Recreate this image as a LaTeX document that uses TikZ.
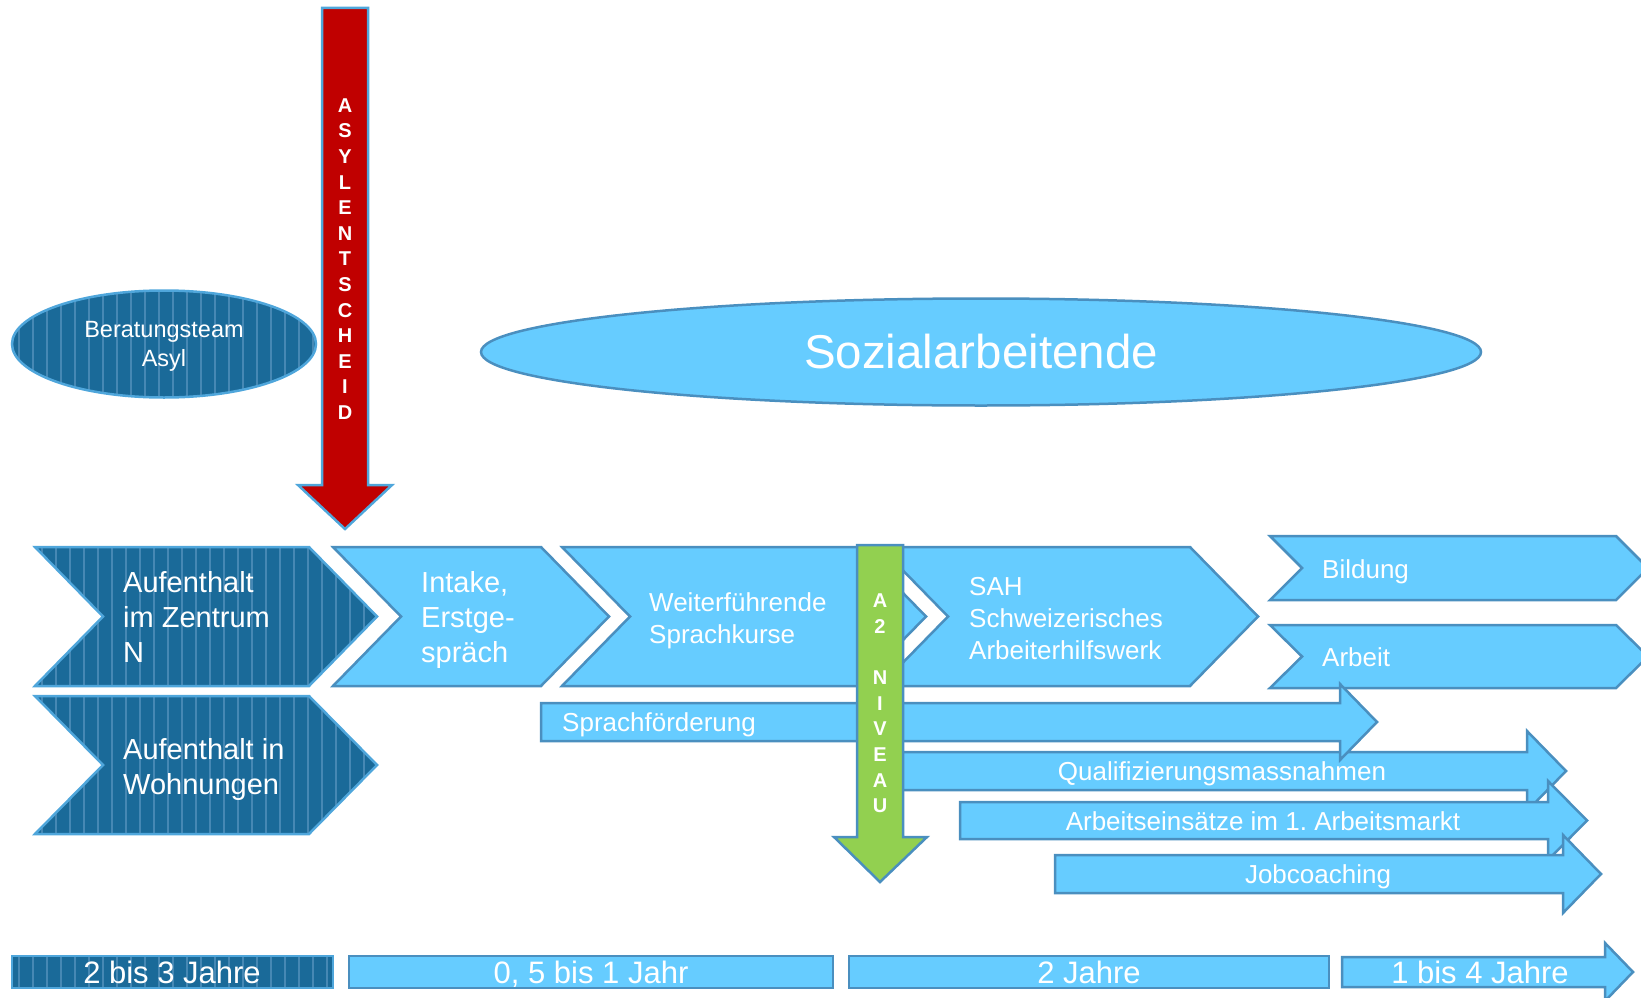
\documentclass[tikz,border=0pt]{standalone}
\usepackage{fontspec}
\setmainfont{Liberation Sans}
\usetikzlibrary{shapes.geometric}
\frenchspacing

\definecolor{skyfill}{HTML}{66CCFF}
\definecolor{skyline}{HTML}{4A8FBF}
\definecolor{navyfill}{HTML}{1A6A99}
\definecolor{navystripe}{HTML}{4688B4}
\definecolor{navyline}{HTML}{4FA6DB}
\definecolor{redfill}{HTML}{C00000}
\definecolor{greenfill}{HTML}{92D050}

\tikzset{
  sky/.style={fill=skyfill, draw=skyline, line width=2.5pt, line join=miter},
  striped/.style={fill=navyfill, draw=navyline, line width=2.5pt, line join=miter,
    path picture={
      \foreach \k in {0,...,26}{
        \draw[navystripe, line width=2.6pt]
          ([xshift=\k*14pt+7pt]path picture bounding box.north west) --
          ([xshift=\k*14pt+7pt]path picture bounding box.south west);
      }}},
  lbl/.style={text=white, inner sep=0pt},
  big/.style={lbl, font=\fontsize{29}{35}\selectfont, align=left, anchor=north west},
  mid/.style={lbl, font=\fontsize{26}{32}\selectfont, align=left, anchor=north west},
  barlabel/.style={lbl, font=\fontsize{26}{32}\selectfont, anchor=base},
  yearlabel/.style={lbl, font=\fontsize{31}{36}\selectfont, anchor=base},
  spelled/.style={lbl, font=\bfseries\fontsize{20}{25.6}\selectfont, align=center, anchor=center}
}

\begin{document}
\begin{tikzpicture}[x=1pt, y=-1pt]
\useasboundingbox (0,0) rectangle (1641,998);

% ---- counselling teams ----
\node[striped, ellipse, minimum width=304pt, minimum height=107pt, inner sep=0pt] (berat) at (164,344) {};
\node[lbl, font=\fontsize{23.5}{29}\selectfont, align=center, anchor=center] (berattext) at (164,346) {Beratungsteam\\Asyl};

\node[sky, ellipse, minimum width=1000pt, minimum height=107pt, inner sep=0pt] (sozial) at (981,352) {};
\node[lbl, font=\fontsize{47.5}{54}\selectfont, anchor=base] (sozialtext) at (981,368) {Sozialarbeitende};

% ---- asylum decision ----
\draw[fill=redfill, draw=navyline, line width=2.5pt, line join=miter]
  (322,8) -- (368,8) -- (368,485) -- (392,485) -- (345,529) -- (298,485) -- (322,485) -- cycle;
\node[spelled] (asyl) at (345,259) {A\\S\\Y\\L\\E\\N\\T\\S\\C\\H\\E\\I\\D};

% ---- phases ----
\draw[striped] (35,547) -- (309,547) -- (377,616.5) -- (309,686) -- (35,686) -- (103,616.5) -- cycle;
\draw[striped] (35,696) -- (309,696) -- (377,765) -- (309,834) -- (35,834) -- (103,765) -- cycle;
\draw[sky] (333,547) -- (541,547) -- (609,616.5) -- (541,686) -- (333,686) -- (401,616.5) -- cycle;
\draw[sky] (562,547) -- (858,547) -- (926,616.5) -- (858,686) -- (562,686) -- (630,616.5) -- cycle;
\draw[sky] (880,547) -- (1190,547) -- (1258,616.5) -- (1190,686) -- (880,686) -- (948,616.5) -- cycle;
\draw[sky] (1270,536) -- (1616,536) -- (1648,568) -- (1616,600) -- (1270,600) -- (1302,568) -- cycle;
\draw[sky] (1270,625) -- (1616,625) -- (1648,656.5) -- (1616,688) -- (1270,688) -- (1302,656.5) -- cycle;

\node[big] (zentrum) at (123,571) {Aufenthalt\\im Zentrum\\N};
\node[big] (wohnungen) at (123,738) {Aufenthalt in\\Wohnungen};
\node[big] (intake) at (421,571) {Intake,\\Erstge-\\spräch};
\node[mid] (kurse) at (649,592) {Weiterführende\\Sprachkurse};
\node[mid] (sah) at (969,577) {SAH\\Schweizerisches\\Arbeiterhilfswerk};
\node[lbl, font=\fontsize{26}{32}\selectfont, anchor=base west] (bildung) at (1322,578) {Bildung};
\node[lbl, font=\fontsize{26}{32}\selectfont, anchor=base west] (arbeit) at (1322,666) {Arbeit};

% ---- measures ----
\draw[sky] (880,752) -- (1527,752) -- (1527,731) -- (1566,771) -- (1527,811) -- (1527,790) -- (880,790) -- cycle;
\draw[sky] (541,703) -- (1340,703) -- (1340,684) -- (1377,722) -- (1340,760) -- (1340,741) -- (541,741) -- cycle;
\draw[sky] (960,802) -- (1548,802) -- (1548,781) -- (1587,820.5) -- (1548,860) -- (1548,839) -- (960,839) -- cycle;
\draw[sky] (1055,855) -- (1563,855) -- (1563,835) -- (1601,874) -- (1563,913) -- (1563,893) -- (1055,893) -- cycle;

\node[lbl, font=\fontsize{26}{32}\selectfont, anchor=base west] (sprach) at (562,731) {Sprachförderung};
\node[barlabel] (quali) at (1222,780) {Qualifizierungsmassnahmen};
\node[barlabel] (einsatz) at (1263,830) {Arbeitseinsätze im 1. Arbeitsmarkt};
\node[barlabel] (coach) at (1318,883) {Jobcoaching};

% ---- language level ----
\draw[fill=greenfill, draw=skyline, line width=2.5pt, line join=miter]
  (857,545) -- (903,545) -- (903,837) -- (927,837) -- (880,882) -- (834,837) -- (857,837) -- cycle;
\node[spelled] (niveau) at (880,703.5) {A\\2\\\mbox{}\\N\\I\\V\\E\\A\\U};

% ---- durations ----
\draw[striped] (12,956) rectangle (333,988);
\draw[sky] (349,956) rectangle (833,988);
\draw[sky] (849,956) rectangle (1329,988);
\draw[sky] (1342,957) -- (1605,957) -- (1605,943) -- (1633,972) -- (1605,1001) -- (1605,987) -- (1342,987) -- cycle;

\node[yearlabel] (y1) at (172,983) {2 bis 3 Jahre};
\node[yearlabel] (y2) at (591,983) {0, 5 bis 1 Jahr};
\node[yearlabel] (y3) at (1089,983) {2 Jahre};
\node[yearlabel] (y4) at (1480,983) {1 bis 4 Jahre};
\end{tikzpicture}
\end{document}
